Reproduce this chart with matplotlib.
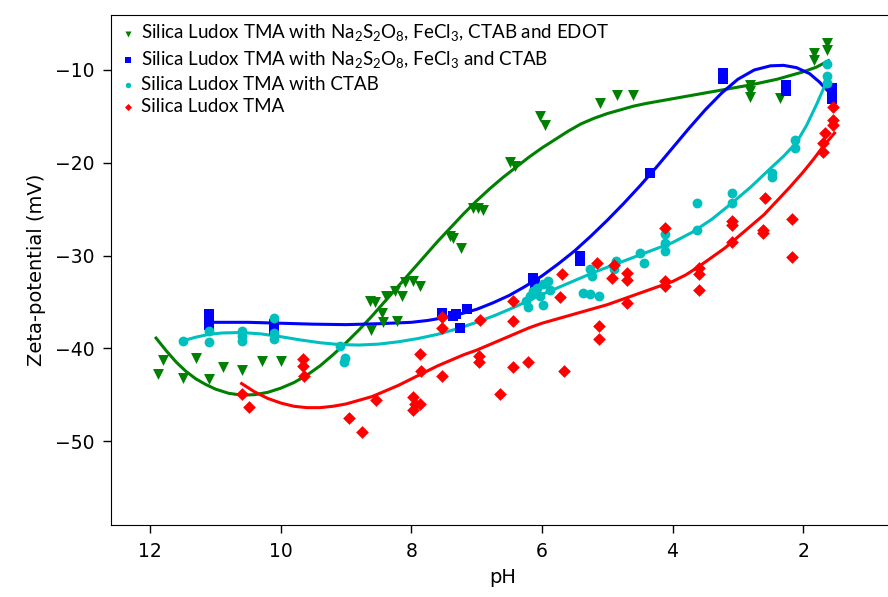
import numpy as np
import matplotlib
matplotlib.use("Agg")
import matplotlib.pyplot as plt

# ── Measured points (pH, zeta potential in mV) ─────────────────────
EDOT_PH = [11.88, 11.80, 11.50, 11.30, 11.10, 10.89, 10.60, 10.29, 9.99,
           8.62, 8.64, 8.55, 8.45, 8.43, 8.39, 8.25, 8.22, 8.15, 8.10, 7.98, 7.87,
           7.41, 7.36, 7.24, 7.05, 6.98, 6.90, 6.49, 6.41, 6.03, 5.95,
           5.11, 4.85, 4.61, 2.81, 2.81, 2.81, 2.35, 1.84, 1.84, 1.64, 1.64]
EDOT_Z = [-42.8, -41.3, -43.2, -41.1, -43.3, -42.0, -42.3, -41.4, -41.4,
          -38.0, -34.9, -35.0, -36.2, -37.2, -34.4, -33.8, -37.1, -34.4, -32.9, -32.8, -33.3,
          -27.9, -28.1, -29.2, -24.9, -24.9, -25.1, -19.9, -20.4, -15.0, -15.9,
          -13.6, -12.7, -12.7, -11.6, -12.3, -12.9, -13.0, -8.2, -8.9, -7.1, -7.8]

FECL_PH = [11.10, 11.10, 11.10, 10.10, 10.10, 7.53, 7.36, 7.31, 7.15, 7.25,
           6.13, 6.10, 5.42, 5.42, 4.34, 3.23, 3.23, 2.26, 2.26, 1.56, 1.56, 1.56]
FECL_Z = [-36.3, -36.9, -37.5, -37.4, -38.0, -36.2, -36.5, -36.3, -35.8, -37.8,
          -32.4, -33.0, -30.1, -30.6, -21.1, -10.3, -11.0, -11.6, -12.3, -11.9, -12.5, -13.1]

CTAB_PH = [11.50, 11.10, 11.10, 10.60, 10.60, 10.60, 10.10, 10.10, 10.10,
           9.09, 9.01, 9.03, 6.18, 6.21, 6.13, 6.08, 5.98, 5.90, 5.87, 5.98, 6.03, 6.25,
           5.37, 5.26, 5.13, 5.26, 5.24, 4.87, 4.90, 4.50, 4.44, 4.11, 4.11, 4.11,
           3.63, 3.63, 3.09, 3.09, 2.48, 2.48, 2.12, 2.12, 1.64, 1.64, 1.64]
CTAB_Z = [-39.2, -38.1, -39.3, -38.1, -38.7, -39.2, -36.7, -38.3, -39.0,
          -39.7, -41.0, -41.5, -34.4, -35.5, -33.8, -33.5, -33.1, -32.8, -33.7, -35.3, -34.4, -34.9,
          -34.0, -34.2, -34.4, -31.5, -32.2, -30.6, -31.4, -29.7, -30.8, -27.7, -28.6, -29.5,
          -24.3, -27.2, -23.3, -24.3, -21.1, -21.5, -17.5, -18.4, -9.3, -10.7, -11.4]

TMA_PH = [10.60, 10.49, 9.66, 9.66, 9.65, 8.96, 8.76, 8.54, 7.97, 7.94, 7.87, 7.97,
          7.87, 7.86, 7.53, 7.53, 7.53, 6.97, 6.96, 6.95, 6.64, 6.45, 6.44, 6.44, 6.22,
          5.72, 5.70, 5.66, 5.16, 5.13, 5.13, 4.90, 4.93, 4.70, 4.70, 4.70,
          4.11, 4.11, 4.11, 3.60, 3.60, 3.60, 3.09, 3.09, 3.09, 2.61, 2.61, 2.58,
          2.17, 2.17, 1.54, 1.54, 1.54, 1.66, 1.69, 1.69]
TMA_Z = [-44.9, -46.3, -41.2, -41.9, -43.0, -47.5, -49.0, -45.6, -45.3, -46.0, -46.0, -46.7,
         -40.6, -42.4, -36.6, -37.8, -43.0, -40.8, -41.5, -36.9, -44.9, -42.0, -37.1, -34.9, -41.5,
         -34.5, -32.0, -42.4, -30.8, -37.6, -39.0, -31.0, -32.4, -31.9, -32.6, -35.1,
         -27.0, -32.8, -33.3, -31.3, -32.0, -33.7, -26.3, -26.7, -28.5, -27.2, -27.6, -23.8,
         -26.1, -30.2, -14.0, -15.4, -15.9, -16.8, -17.9, -18.8]

# ── Fitted trend lines ─────────────────────────────────────────────
EDOT_FIT_PH = [11.91, 11.75, 11.6, 11.45, 11.3, 11.15, 11.0, 10.8, 10.6, 10.4, 10.2,
               10.0, 9.8, 9.6, 9.4, 9.2, 9.0, 8.8, 8.6, 8.4, 8.2, 8.0, 7.8, 7.6, 7.4,
               7.2, 7.0, 6.8, 6.6, 6.4, 6.2, 6.0, 5.8, 5.6, 5.4, 5.2, 5.0, 4.8, 4.6,
               4.4, 4.2, 4.0, 3.6, 3.2, 2.8, 2.4, 2.0, 1.8, 1.61]
EDOT_FIT_Z = [-38.9, -40.3, -41.5, -42.5, -43.3, -43.9, -44.4, -44.85, -45.05, -45.0, -44.75,
              -44.3, -43.7, -42.9, -41.9, -40.7, -39.4, -38.0, -36.5, -34.9, -33.3, -31.7, -30.1,
              -28.5, -27.0, -25.5, -24.1, -22.8, -21.6, -20.5, -19.4, -18.4, -17.5, -16.6, -15.8,
              -15.2, -14.7, -14.3, -13.9, -13.6, -13.35, -13.1, -12.6, -12.1, -11.6, -11.0,
              -10.2, -9.7, -9.0]

FECL_FIT_PH = [11.1, 10.5, 10.0, 9.5, 9.0, 8.5, 8.0, 7.75, 7.5, 7.25, 7.0, 6.75, 6.5,
               6.25, 6.0, 5.75, 5.5, 5.25, 5.0, 4.75, 4.5, 4.25, 4.0, 3.75, 3.5, 3.25,
               3.0, 2.75, 2.5, 2.3, 2.1, 1.9, 1.75, 1.59]
FECL_FIT_Z = [-37.2, -37.2, -37.3, -37.4, -37.45, -37.35, -37.2, -37.0, -36.7, -36.3, -35.8,
              -35.1, -34.3, -33.3, -32.2, -30.9, -29.5, -27.9, -26.2, -24.4, -22.5, -20.5,
              -18.4, -16.3, -14.3, -12.5, -11.0, -10.0, -9.55, -9.5, -9.75, -10.4, -11.3, -12.5]

CTAB_FIT_PH = [11.5, 11.3, 11.1, 10.9, 10.6, 10.3, 10.0, 9.7, 9.4, 9.1, 8.8, 8.5, 8.2,
               7.9, 7.6, 7.3, 7.0, 6.7, 6.4, 6.1, 5.8, 5.5, 5.2, 4.9, 4.6, 4.3, 4.0,
               3.7, 3.4, 3.1, 2.8, 2.5, 2.3, 2.1, 1.95, 1.8, 1.7, 1.61]
CTAB_FIT_Z = [-39.2, -38.8, -38.5, -38.35, -38.3, -38.45, -38.75, -39.1, -39.4, -39.6, -39.65,
              -39.55, -39.3, -38.95, -38.5, -37.9, -37.2, -36.4, -35.5, -34.5, -33.6, -32.7,
              -31.8, -31.0, -30.2, -29.4, -28.6, -27.5, -26.1, -24.4, -22.6, -20.6, -19.3,
              -17.8, -16.0, -13.8, -12.2, -10.7]

TMA_FIT_PH = [10.6, 10.4, 10.2, 10.0, 9.8, 9.6, 9.4, 9.2, 9.0, 8.8, 8.6, 8.4, 8.2, 8.0,
              7.8, 7.6, 7.4, 7.2, 7.0, 6.8, 6.6, 6.4, 6.2, 6.0, 5.8, 5.6, 5.4, 5.2, 5.0,
              4.8, 4.6, 4.4, 4.2, 4.0, 3.8, 3.6, 3.4, 3.2, 3.0, 2.8, 2.6, 2.4, 2.2, 2.0,
              1.85, 1.7, 1.52]
TMA_FIT_Z = [-43.8, -44.7, -45.4, -45.9, -46.25, -46.4, -46.4, -46.25, -46.0, -45.6, -45.2,
             -44.6, -44.0, -43.3, -42.6, -41.9, -41.3, -40.7, -40.2, -39.6, -39.0, -38.4,
             -37.8, -37.3, -36.9, -36.5, -36.1, -35.7, -35.3, -34.8, -34.3, -33.8, -33.3,
             -32.8, -32.1, -31.2, -30.2, -29.2, -28.0, -26.8, -25.6, -24.1, -22.6, -21.0,
             -19.7, -18.3, -16.8]

LABELS = [
    r"Silica Ludox TMA with $\mathregular{Na_2S_2O_8}$, $\mathregular{FeCl_3}$, CTAB and EDOT",
    r"Silica Ludox TMA with $\mathregular{Na_2S_2O_8}$, $\mathregular{FeCl_3}$ and CTAB",
    "Silica Ludox TMA with CTAB",
    "Silica Ludox TMA",
]

fig = plt.figure(figsize=(8.88, 5.97), dpi=100)
ax = fig.add_axes([0.125, 0.1206, 0.8824, 0.8543])

series = [
    (EDOT_PH, EDOT_Z, EDOT_FIT_PH, EDOT_FIT_Z, "g", "v", 62),
    (FECL_PH, FECL_Z, FECL_FIT_PH, FECL_FIT_Z, "b", "s", 48),
    (CTAB_PH, CTAB_Z, CTAB_FIT_PH, CTAB_FIT_Z, "c", "o", 50),
    (TMA_PH, TMA_Z, TMA_FIT_PH, TMA_FIT_Z, "r", "D", 42),
]

handles = []
for (px, pz, fx, fz, clr, mk, size), lbl in zip(series, LABELS):
    h = ax.scatter(px, pz, c=clr, marker=mk, s=size, linewidths=0, label=lbl, zorder=3)
    ax.plot(fx, fz, color=clr, lw=2.2, zorder=2, solid_joinstyle="round")
    handles.append(h)

ax.set_xlim(12.6, 0.6)
ax.set_ylim(-59.05, -4.07)
ax.set_xticks([12, 10, 8, 6, 4, 2])
ax.set_yticks([-50, -40, -30, -20, -10])
ax.tick_params(direction="out", length=6, width=1, labelsize=13.5, pad=6)
ax.set_xlabel("pH", fontsize=14, labelpad=5)
ax.set_ylabel("Zeta-potential (mV)", fontsize=14, labelpad=6)
ax.spines["right"].set_visible(False)

leg = ax.legend(handles=handles, loc="upper left", frameon=False,
                scatterpoints=1, markerscale=0.55, handletextpad=0.2,
                labelspacing=0.3, borderaxespad=0.1, borderpad=0.3,
                handlelength=1.0, prop={"family": "Lato", "size": 13.5})

fig.savefig("out.png", dpi=100)
